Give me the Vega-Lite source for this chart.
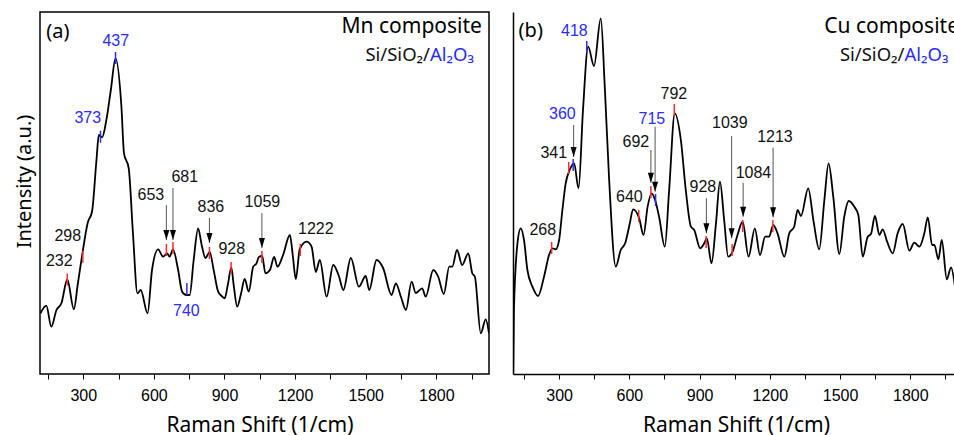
{
  "$schema": "https://vega.github.io/schema/vega-lite/v6.json",
  "padding": {"left": 13, "top": 11, "right": 0, "bottom": 0},
  "background": "white",
  "datasets": {
    "mn": [
      {"w":118,"i":60.7},{"w":143,"i":68.3},{"w":164,"i":47.3},{"w":186,"i":64},{"w":207,"i":70.7},{"w":232,"i":94.5},{"w":260,"i":64.7},{"w":276,"i":89},{"w":292,"i":114},{"w":320,"i":152.3},{"w":337,"i":162.3},{"w":356,"i":214},{"w":366,"i":239},{"w":380,"i":236.7},{"w":398,"i":254},{"w":417,"i":284},{"w":437,"i":315.7},{"w":462,"i":267.3},{"w":473,"i":220.7},{"w":493,"i":205.7},{"w":511,"i":140.7},{"w":530,"i":80.7},{"w":544,"i":84},{"w":573,"i":60.7},{"w":592,"i":104},{"w":618,"i":124.7},{"w":639,"i":117.3},{"w":656,"i":120.7},{"w":667,"i":117.3},{"w":681,"i":124.7},{"w":703,"i":104},{"w":720,"i":82.3},{"w":738,"i":79},{"w":752,"i":79},{"w":769,"i":114},{"w":788,"i":145.7},{"w":803,"i":129},{"w":819,"i":116},{"w":837,"i":122},{"w":854,"i":104},{"w":873,"i":82.3},{"w":888,"i":78},{"w":901,"i":75.7},{"w":914,"i":89},{"w":929,"i":106.5},{"w":939,"i":89},{"w":954,"i":67.3},{"w":969,"i":79},{"w":986,"i":95},{"w":1003,"i":82.3},{"w":1022,"i":107.3},{"w":1036,"i":110.7},{"w":1046,"i":117},{"w":1060,"i":118},{"w":1074,"i":100.7},{"w":1093,"i":104},{"w":1111,"i":117},{"w":1125,"i":107.3},{"w":1149,"i":119},{"w":1178,"i":139},{"w":1190,"i":119},{"w":1203,"i":95},{"w":1220,"i":125},{"w":1249,"i":132.3},{"w":1270,"i":127.3},{"w":1288,"i":102},{"w":1305,"i":114},{"w":1334,"i":77.3},{"w":1362,"i":109},{"w":1386,"i":98},{"w":1405,"i":84},{"w":1437,"i":116},{"w":1471,"i":87.3},{"w":1500,"i":98},{"w":1515,"i":84},{"w":1546,"i":114},{"w":1574,"i":106},{"w":1610,"i":79},{"w":1628,"i":90.7},{"w":1650,"i":77},{"w":1671,"i":64},{"w":1695,"i":92.3},{"w":1713,"i":81},{"w":1740,"i":85.7},{"w":1755,"i":77.3},{"w":1787,"i":104},{"w":1808,"i":97.3},{"w":1832,"i":80},{"w":1855,"i":107.3},{"w":1868,"i":107.3},{"w":1888,"i":124},{"w":1910,"i":109},{"w":1936,"i":120.7},{"w":1953,"i":100.7},{"w":1964,"i":97.3},{"w":1989,"i":40.7},{"w":2010,"i":54.7},{"w":2024,"i":40.7}
    ],
    "cu": [
      {"w":104,"i":2.3},{"w":107,"i":64},{"w":122,"i":130.7},{"w":136,"i":145.7},{"w":150,"i":134},{"w":164.5,"i":104},{"w":186,"i":87.3},{"w":210,"i":78},{"w":235.5,"i":97.3},{"w":257,"i":119},{"w":271,"i":125.7},{"w":285.5,"i":124.7},{"w":300,"i":134},{"w":314,"i":164},{"w":328,"i":190.7},{"w":345,"i":204},{"w":364,"i":210.7},{"w":383,"i":185.7},{"w":402,"i":264},{"w":424,"i":327.3},{"w":449,"i":308},{"w":478,"i":355.7},{"w":495,"i":287.3},{"w":513,"i":197.3},{"w":542,"i":107.3},{"w":563,"i":124},{"w":582,"i":130.7},{"w":602,"i":150.7},{"w":616,"i":164.7},{"w":642,"i":155.7},{"w":660.5,"i":139},{"w":678,"i":167.3},{"w":695,"i":180.7},{"w":710,"i":174},{"w":727,"i":157.3},{"w":751.5,"i":127.3},{"w":770,"i":184},{"w":794,"i":260.7},{"w":820,"i":234},{"w":841,"i":184},{"w":863,"i":147.3},{"w":877,"i":144},{"w":902.5,"i":125.7},{"w":920,"i":130.7},{"w":931,"i":135.7},{"w":951,"i":110.7},{"w":970,"i":150.7},{"w":987,"i":192.3},{"w":1005,"i":154},{"w":1022,"i":117.3},{"w":1041,"i":122.3},{"w":1062,"i":139},{"w":1084,"i":152.3},{"w":1109,"i":117.3},{"w":1136,"i":145.7},{"w":1158,"i":119},{"w":1180,"i":137.3},{"w":1197,"i":137.3},{"w":1214.5,"i":149},{"w":1233,"i":140.7},{"w":1262,"i":117.3},{"w":1283,"i":140.7},{"w":1304,"i":147.3},{"w":1319,"i":164},{"w":1333,"i":158},{"w":1364,"i":185.7},{"w":1387,"i":152.3},{"w":1411,"i":124.7},{"w":1433,"i":174},{"w":1451,"i":210.7},{"w":1471,"i":177.3},{"w":1497,"i":120},{"w":1518,"i":157.3},{"w":1537,"i":173},{"w":1561,"i":167.3},{"w":1578,"i":159},{"w":1597,"i":117.3},{"w":1618,"i":137.3},{"w":1632,"i":140},{"w":1649,"i":158},{"w":1668,"i":139},{"w":1682,"i":144.7},{"w":1701,"i":132.3},{"w":1725,"i":120.7},{"w":1746,"i":140.7},{"w":1768,"i":150},{"w":1796,"i":123.3},{"w":1817,"i":131.3},{"w":1839,"i":127.3},{"w":1860,"i":140.7},{"w":1875,"i":156.7},{"w":1893,"i":129},{"w":1903,"i":129},{"w":1920,"i":114.7},{"w":1934.5,"i":134},{"w":1956,"i":94.7},{"w":1974,"i":106.7},{"w":1991,"i":87.3}
    ],
    "mnPeaks": [
      {"peak":"232","w":232,"i":94.5,"lw":198,"li":108,"phase":"composite"},
      {"peak":"298","w":298,"i":117.3,"lw":234,"li":133,"phase":"composite"},
      {"peak":"373","w":373,"i":237.3,"lw":319,"li":251,"phase":"Al2O3"},
      {"peak":"437","w":437,"i":316,"lw":438,"li":328,"phase":"Al2O3"},
      {"peak":"653","w":653,"i":124,"lw":587,"li":174,"phase":"composite"},
      {"peak":"681","w":681,"i":126,"lw":731,"li":192,"phase":"composite"},
      {"peak":"740","w":740,"i":85,"lw":738,"li":58,"phase":"Al2O3"},
      {"peak":"836","w":836,"i":121,"lw":842,"li":162,"phase":"composite"},
      {"peak":"928","w":928,"i":106,"lw":931,"li":120,"phase":"composite"},
      {"peak":"1059","w":1059,"i":117,"lw":1061,"li":167,"phase":"composite"},
      {"peak":"1222","w":1222,"i":124,"lw":1288,"li":140,"phase":"composite"}
    ],
    "mnArrows": [
      {"w":653,"top":169,"tip":134},
      {"w":681,"top":186,"tip":134},
      {"w":836,"top":156,"tip":131},
      {"w":1059,"top":161,"tip":126}
    ],
    "cuPeaks": [
      {"peak":"268","w":268,"i":126,"lw":230,"li":139,"phase":"composite"},
      {"peak":"341","w":341,"i":206,"lw":277,"li":216,"phase":"composite"},
      {"peak":"360","w":360,"i":209,"lw":314,"li":255,"phase":"Al2O3"},
      {"peak":"418","w":418,"i":327,"lw":365,"li":338,"phase":"Al2O3"},
      {"peak":"640","w":640,"i":158,"lw":600,"li":172.3,"phase":"composite"},
      {"peak":"692","w":692,"i":182,"lw":628,"li":227.3,"phase":"composite"},
      {"peak":"715","w":712,"i":174,"lw":696,"li":250,"phase":"Al2O3"},
      {"peak":"792","w":792,"i":264,"lw":790,"li":275,"phase":"composite"},
      {"peak":"928","w":928,"i":132,"lw":914,"li":182.3,"phase":"composite"},
      {"peak":"1039","w":1039,"i":124,"lw":1029,"li":246,"phase":"composite"},
      {"peak":"1084","w":1084,"i":148,"lw":1130,"li":196.3,"phase":"composite"},
      {"peak":"1213","w":1213,"i":148,"lw":1222,"li":232.3,"phase":"composite"}
    ],
    "cuArrows": [
      {"w":362,"top":249,"tip":217},
      {"w":692,"top":224,"tip":191.3},
      {"w":710,"top":247.3,"tip":182.3},
      {"w":929,"top":175.7,"tip":140.7},
      {"w":1037,"top":238,"tip":135.7},
      {"w":1086,"top":191.3,"tip":157.3},
      {"w":1214,"top":226.3,"tip":156.7}
    ],
    "mnPanel": [{"tag":"(a)","w":143,"i":336}],
    "mnTitle": [{"tag":"Mn composite","w":1994,"i":340.7}],
    "mnSubA": [{"s":"Si/SiO₂/","w":1773,"i":313}],
    "mnSubB": [{"s":"Al₂O₃","w":1773,"i":313}],
    "cuPanel": [{"tag":"(b)","w":127,"i":337.5}],
    "cuTitle": [{"tag":"Cu composite","w":2008,"i":340.7}],
    "cuSubA": [{"s":"Si/SiO₂/","w":1775,"i":313}],
    "cuSubB": [{"s":"Al₂O₃","w":1775,"i":313}]
  },
  "config": {
    "view": {"stroke": "black", "strokeWidth": 1.5},
    "concat": {"spacing": 23},
    "axis": {"grid": false, "labelFont": "Liberation Sans", "labelFontSize": 16, "labelColor": "black", "titleFont": "Noto Sans", "titleFontSize": 21, "titleFontWeight": "normal", "titleColor": "black", "tickColor": "black", "domainColor": "black", "domainWidth": 1.5},
    "text": {"font": "Liberation Sans", "fontSize": 16, "baseline": "alphabetic"}
  },
  "hconcat": [
    {
      "width": 449, "height": 362,
      "layer": [
        {
          "data": {"name": "mn"},
          "mark": {"type": "line", "color": "black", "strokeWidth": 1.8, "interpolate": "monotone", "clip": true},
          "encoding": {
            "x": {"field": "w", "type": "quantitative", "scale": {"domain": [116, 2024], "nice": false, "zero": false},
              "axis": {"orient": "bottom", "values": [300,600,900,1200,1500,1800], "format": "d", "labelOverlap": false, "labelFlush": false, "domain": false, "tickSize": 5, "labelPadding": 8, "title": "Raman Shift (1/cm)", "titlePadding": 11, "titleX": 219.5}},
            "y": {"field": "i", "type": "quantitative", "scale": {"domain": [0, 362], "nice": false, "zero": false},
              "axis": {"domain": false, "ticks": false, "labels": false, "title": "Intensity (a.u.)", "titleFontSize": 20, "titlePadding": 6, "titleY": 169}}
          }
        },
        {
          "data": {"name": "mnArrows"},
          "mark": {"type": "rule", "color": "#555555", "strokeWidth": 1},
          "encoding": {"x": {"field": "w", "type": "quantitative",
              "axis": {"orient": "bottom", "offset": 0, "values": [150,450,750,1050,1350,1650,1950], "labels": false, "domain": false, "tickSize": 5, "title": null}},
            "y": {"field": "top", "type": "quantitative"}, "y2": {"field": "tip"}}
        },
        {
          "data": {"name": "mnArrows"},
          "mark": {"type": "point", "shape": "M-0.6,-2L0.6,-2L0,0Z", "filled": true, "size": 100, "color": "black", "opacity": 1},
          "encoding": {"x": {"field": "w", "type": "quantitative", "axis": null}, "y": {"field": "tip", "type": "quantitative"}}
        },
        {
          "data": {"name": "mnPeaks"},
          "mark": {"type": "tick", "orient": "vertical", "size": 12, "thickness": 1.5, "opacity": 1},
          "encoding": {"x": {"field": "w", "type": "quantitative", "axis": null}, "y": {"field": "i", "type": "quantitative"},
            "color": {"field": "phase", "type": "nominal", "scale": {"domain": ["Al2O3", "composite"], "range": ["#2b2bff", "#ff2a2a"]}, "legend": null}}
        },
        {
          "data": {"name": "mnPeaks"},
          "mark": {"type": "text", "align": "center"},
          "encoding": {"x": {"field": "lw", "type": "quantitative", "axis": null}, "y": {"field": "li", "type": "quantitative"}, "text": {"field": "peak"},
            "color": {"field": "phase", "type": "nominal", "scale": {"domain": ["Al2O3", "composite"], "range": ["#2b2bff", "#111111"]}, "legend": null}}
        },
        {
          "data": {"name": "mnPanel"},
          "mark": {"type": "text", "font": "Noto Sans", "fontSize": 20, "color": "black", "align": "left"},
          "encoding": {"x": {"field": "w", "type": "quantitative", "axis": null}, "y": {"field": "i", "type": "quantitative"}, "text": {"field": "tag"}}
        },
        {
          "data": {"name": "mnTitle"},
          "mark": {"type": "text", "font": "Noto Sans", "fontSize": 21, "color": "black", "align": "right"},
          "encoding": {"x": {"field": "w", "type": "quantitative", "axis": null}, "y": {"field": "i", "type": "quantitative"}, "text": {"field": "tag"}}
        },
        {
          "data": {"name": "mnSubA"},
          "mark": {"type": "text", "font": "Noto Sans", "fontSize": 18.5, "color": "#111111", "align": "right"},
          "encoding": {"x": {"field": "w", "type": "quantitative", "axis": null}, "y": {"field": "i", "type": "quantitative"}, "text": {"field": "s"}}
        },
        {
          "data": {"name": "mnSubB"},
          "mark": {"type": "text", "font": "Noto Sans", "fontSize": 18.5, "color": "#2b2bff", "align": "left"},
          "encoding": {"x": {"field": "w", "type": "quantitative", "axis": null}, "y": {"field": "i", "type": "quantitative"}, "text": {"field": "s"}}
        }
      ],
      "resolve": {"scale": {"color": "independent"}, "axis": {"x": "independent"}}
    },
    {
      "width": 442, "height": 362,
      "view": {"stroke": null},
      "layer": [
        {
          "data": {"name": "cu"},
          "mark": {"type": "line", "color": "black", "strokeWidth": 1.8, "interpolate": "monotone", "clip": true},
          "encoding": {
            "x": {"field": "w", "type": "quantitative", "scale": {"domain": [103, 1991], "nice": false, "zero": false},
              "axis": {"orient": "bottom", "values": [300,600,900,1200,1500,1800], "labelOverlap": false, "labelFlush": false, "format": "d", "domain": true, "tickSize": 5, "labelPadding": 8, "title": "Raman Shift (1/cm)", "titlePadding": 11, "titleX": 223}},
            "y": {"field": "i", "type": "quantitative", "scale": {"domain": [0, 362], "nice": false, "zero": false},
              "axis": {"domain": true, "ticks": false, "labels": false, "title": null}}
          }
        },
        {
          "mark": {"type": "rule", "color": "black", "strokeWidth": 1.5},
          "encoding": {"y": {"datum": 362, "type": "quantitative"}}
        },
        {
          "data": {"name": "cuArrows"},
          "mark": {"type": "rule", "color": "#555555", "strokeWidth": 1},
          "encoding": {"x": {"field": "w", "type": "quantitative",
              "axis": {"orient": "bottom", "offset": 0, "values": [150,450,750,1050,1350,1650,1950], "labels": false, "domain": false, "tickSize": 5, "title": null}},
            "y": {"field": "top", "type": "quantitative"}, "y2": {"field": "tip"}}
        },
        {
          "data": {"name": "cuArrows"},
          "mark": {"type": "point", "shape": "M-0.6,-2L0.6,-2L0,0Z", "filled": true, "size": 100, "color": "black", "opacity": 1},
          "encoding": {"x": {"field": "w", "type": "quantitative", "axis": null}, "y": {"field": "tip", "type": "quantitative"}}
        },
        {
          "data": {"name": "cuPeaks"},
          "mark": {"type": "tick", "orient": "vertical", "size": 12, "thickness": 1.5, "opacity": 1},
          "encoding": {"x": {"field": "w", "type": "quantitative", "axis": null}, "y": {"field": "i", "type": "quantitative"},
            "color": {"field": "phase", "type": "nominal", "scale": {"domain": ["Al2O3", "composite"], "range": ["#2b2bff", "#ff2a2a"]}, "legend": null}}
        },
        {
          "data": {"name": "cuPeaks"},
          "mark": {"type": "text", "align": "center"},
          "encoding": {"x": {"field": "lw", "type": "quantitative", "axis": null}, "y": {"field": "li", "type": "quantitative"}, "text": {"field": "peak"},
            "color": {"field": "phase", "type": "nominal", "scale": {"domain": ["Al2O3", "composite"], "range": ["#2b2bff", "#111111"]}, "legend": null}}
        },
        {
          "data": {"name": "cuPanel"},
          "mark": {"type": "text", "font": "Noto Sans", "fontSize": 20, "color": "black", "align": "left"},
          "encoding": {"x": {"field": "w", "type": "quantitative", "axis": null}, "y": {"field": "i", "type": "quantitative"}, "text": {"field": "tag"}}
        },
        {
          "data": {"name": "cuTitle"},
          "mark": {"type": "text", "font": "Noto Sans", "fontSize": 21, "color": "black", "align": "right", "clip": true},
          "encoding": {"x": {"field": "w", "type": "quantitative", "axis": null}, "y": {"field": "i", "type": "quantitative"}, "text": {"field": "tag"}}
        },
        {
          "data": {"name": "cuSubA"},
          "mark": {"type": "text", "font": "Noto Sans", "fontSize": 18.5, "color": "#111111", "align": "right"},
          "encoding": {"x": {"field": "w", "type": "quantitative", "axis": null}, "y": {"field": "i", "type": "quantitative"}, "text": {"field": "s"}}
        },
        {
          "data": {"name": "cuSubB"},
          "mark": {"type": "text", "font": "Noto Sans", "fontSize": 18.5, "color": "#2b2bff", "align": "left"},
          "encoding": {"x": {"field": "w", "type": "quantitative", "axis": null}, "y": {"field": "i", "type": "quantitative"}, "text": {"field": "s"}}
        }
      ],
      "resolve": {"scale": {"color": "independent"}, "axis": {"x": "independent"}}
    }
  ]
}
